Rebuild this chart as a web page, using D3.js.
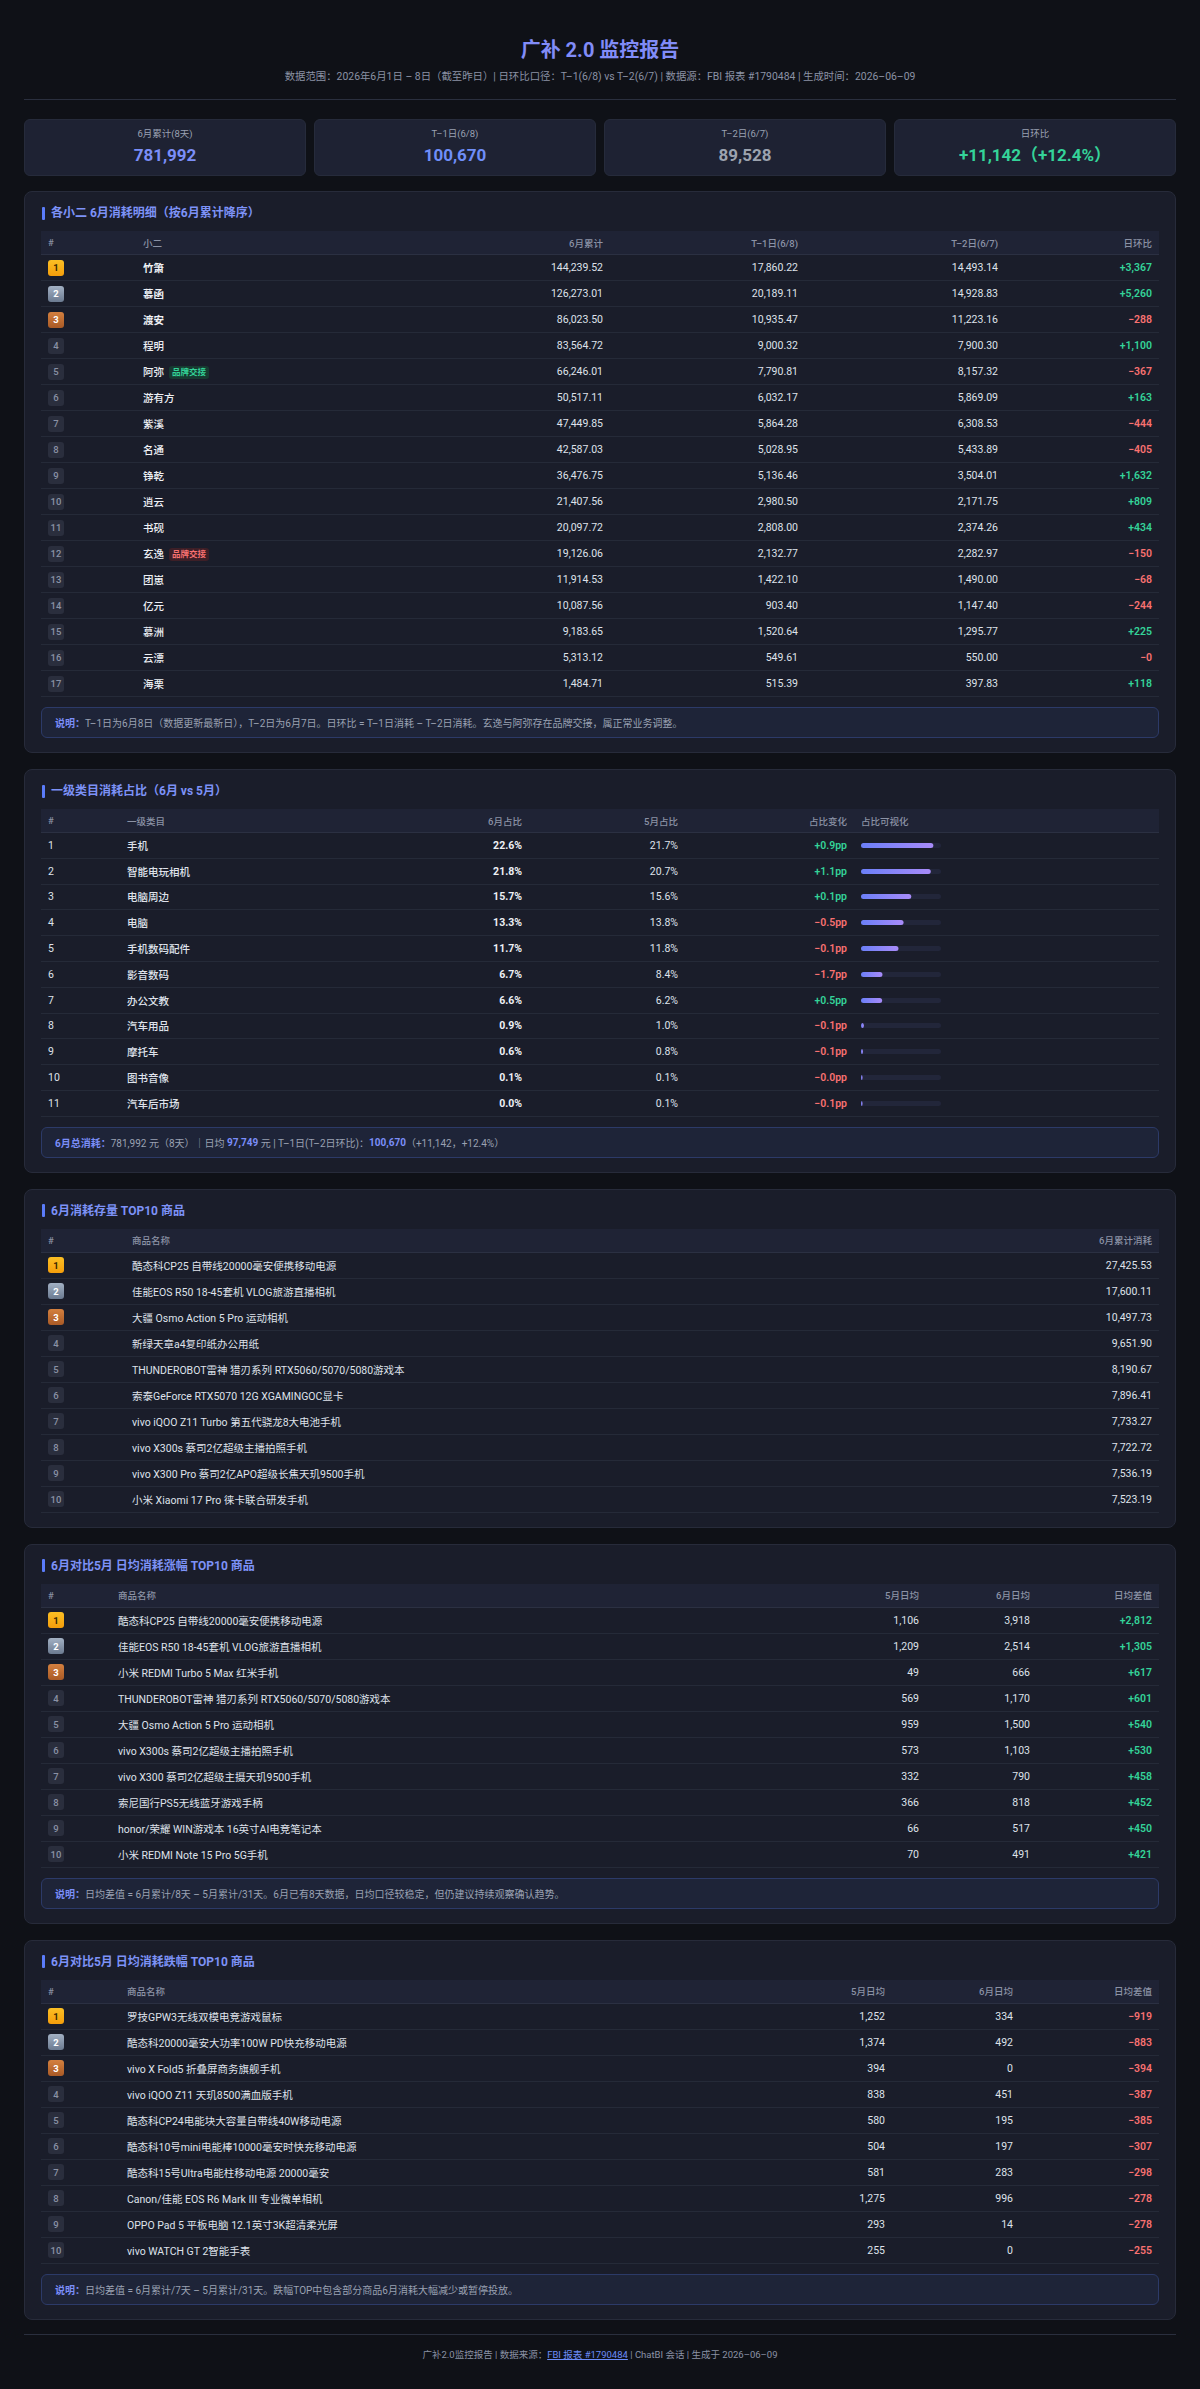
<!DOCTYPE html>
<html lang="zh-CN">
<head>
<meta charset="utf-8">
<title>广补 2.0 监控报告</title>
<script src="https://cdn.jsdelivr.net/npm/d3@7"></script>
<style>
  * { box-sizing: border-box; }
  body { margin: 0; background: #0f1117; color: #e4e6ed; font-family: Roboto, "Noto Sans CJK SC", sans-serif; }
  #page { width: 1152px; margin: 0 24px; padding-top: 36px; }
  h1 { margin: 0; text-align: center; font-size: 20px; line-height: 28px; font-weight: 700; color: #818cf8; }
  .sub { margin-top: 6px; text-align: center; font-size: 10.4px; line-height: 14px; color: #8b92a5; }
  .rule { margin-top: 15px; height: 1px; background: #2a2f3e; }
  .cards { margin-top: 19px; display: flex; gap: 8px; }
  .card { flex: 1; height: 57px; background: #1e2233; border: 1px solid #262b3b; border-radius: 6px; text-align: center; padding-top: 8px; }
  .card .lab { font-size: 9.5px; line-height: 12px; color: #9aa1b2; }
  .card .val { margin-top: 5px; font-size: 17px; line-height: 20px; font-weight: 700; }
  .sec { margin-top: 16px; background: #1a1d2a; border: 1px solid #272b3a; border-radius: 8px; padding: 13px 16px 14px; }
  .sec.first { margin-top: 15px; }
  .sec-title { height: 16px; line-height: 16px; margin-bottom: 10px; font-size: 12px; font-weight: 700; color: #7d92f7; display: flex; align-items: center; }
  .sec-title::before { content: ''; width: 3px; height: 13px; background: #5b7cfa; border-radius: 1px; margin: 0 6px 0 1px; }
  .row { display: grid; align-items: center; border-bottom: 1px solid #252a38; }
  .row.head { height: 24px; background: #1f2335; border-bottom: 1px solid #2b3042; }
  .cell { padding: 0 7px; white-space: nowrap; overflow: hidden; font-size: 10.5px; color: #dfe2ea; }
  .head .cell { font-size: 9.5px; color: #8b92a5; font-weight: 500; }
  .r { text-align: right; }
  .badge { display: inline-flex; width: 16px; height: 16px; border-radius: 3px; align-items: center; justify-content: center; font-size: 9.5px; font-weight: 700; vertical-align: middle; }
  .b1 { background: linear-gradient(#fbbf24, #f59e0b); color: #3a2600; }
  .b2 { background: linear-gradient(#a3b1c4, #6b7a90); color: #fff; }
  .b3 { background: linear-gradient(#d4803f, #a95a26); color: #fff; }
  .bn { background: #2a2e3d; color: #8b92a5; font-weight: 500; }
  .tag { display: inline-block; margin-left: 5px; height: 13px; line-height: 13px; padding: 0 3px; border-radius: 3px; font-size: 8.5px; font-weight: 700; vertical-align: middle; }
  .tag.green { background: #173a31; color: #34d399; }
  .tag.red { background: #3d1f27; color: #f87171; }
  .note { margin-top: 10px; height: 31px; display: flex; align-items: center; padding: 0 13px; background: #1e2438; border: 1px solid #2c3a68; border-radius: 6px; font-size: 10px; color: #9aa1b2; white-space: pre; }
  .note b { color: #7b8ef8; }
  .foot { margin-top: 14px; border-top: 1px solid #2a2f3e; padding-top: 13px; text-align: center; font-size: 9.5px; line-height: 14px; color: #8b92a5; }
  .foot a { color: #6d8cf8; text-decoration: underline; }
</style>
</head>
<body>
<div id="page"></div>
<script>
// ---- data ----
const kpiLabels = ['6月累计(8天)', 'T–1日(6/8)', 'T–2日(6/7)', '日环比'];
const kpiValues = [781992, 100670, 89528, 11142];
const kpiDayPct = 12.4;

const staffNames = ['竹箫', '慕函', '渡安', '程明', '阿弥', '游有方', '紫溪', '名通', '铮乾', '逍云', '书砚', '玄逸', '团崽', '亿元', '慕洲', '云漂', '海栗'];
const staffJune = [144239.52, 126273.01, 86023.50, 83564.72, 66246.01, 50517.11, 47449.85, 42587.03, 36476.75, 21407.56, 20097.72, 19126.06, 11914.53, 10087.56, 9183.65, 5313.12, 1484.71];
const staffT1 = [17860.22, 20189.11, 10935.47, 9000.32, 7790.81, 6032.17, 5864.28, 5028.95, 5136.46, 2980.50, 2808.00, 2132.77, 1422.10, 903.40, 1520.64, 549.61, 515.39];
const staffT2 = [14493.14, 14928.83, 11223.16, 7900.30, 8157.32, 5869.09, 6308.53, 5433.89, 3504.01, 2171.75, 2374.26, 2282.97, 1490.00, 1147.40, 1295.77, 550.00, 397.83];
const staffDelta = [3367, 5260, -288, 1100, -367, 163, -444, -405, 1632, 809, 434, -150, -68, -244, 225, -0, 118];
const handoverTags = { '阿弥': 'green', '玄逸': 'red' };

const categories = ['手机', '智能电玩相机', '电脑周边', '电脑', '手机数码配件', '影音数码', '办公文教', '汽车用品', '摩托车', '图书音像', '汽车后市场'];
const shareJune = [22.6, 21.8, 15.7, 13.3, 11.7, 6.7, 6.6, 0.9, 0.6, 0.1, 0.0];
const shareMay = [21.7, 20.7, 15.6, 13.8, 11.8, 8.4, 6.2, 1.0, 0.8, 0.1, 0.1];
const shareChange = [0.9, 1.1, 0.1, -0.5, -0.1, -1.7, 0.5, -0.1, -0.1, -0.0, -0.1];
const shareMax = 25;
const totalJune = 781992, dailyAvg = 97749;

const topGoods = ['酷态科CP25 自带线20000毫安便携移动电源', '佳能EOS R50 18-45套机 VLOG旅游直播相机', '大疆 Osmo Action 5 Pro 运动相机', '新绿天章a4复印纸办公用纸', 'THUNDEROBOT雷神 猎刃系列 RTX5060/5070/5080游戏本', '索泰GeForce RTX5070 12G XGAMINGOC显卡', 'vivo iQOO Z11 Turbo 第五代骁龙8大电池手机', 'vivo X300s 蔡司2亿超级主播拍照手机', 'vivo X300 Pro 蔡司2亿APO超级长焦天玑9500手机', '小米 Xiaomi 17 Pro 徕卡联合研发手机'];
const topGoodsSpend = [27425.53, 17600.11, 10497.73, 9651.90, 8190.67, 7896.41, 7733.27, 7722.72, 7536.19, 7523.19];

const riseGoods = ['酷态科CP25 自带线20000毫安便携移动电源', '佳能EOS R50 18-45套机 VLOG旅游直播相机', '小米 REDMI Turbo 5 Max 红米手机', 'THUNDEROBOT雷神 猎刃系列 RTX5060/5070/5080游戏本', '大疆 Osmo Action 5 Pro 运动相机', 'vivo X300s 蔡司2亿超级主播拍照手机', 'vivo X300 蔡司2亿超级主摄天玑9500手机', '索尼国行PS5无线蓝牙游戏手柄', 'honor/荣耀 WIN游戏本 16英寸AI电竞笔记本', '小米 REDMI Note 15 Pro 5G手机'];
const riseMay = [1106, 1209, 49, 569, 959, 573, 332, 366, 66, 70];
const riseJune = [3918, 2514, 666, 1170, 1500, 1103, 790, 818, 517, 491];
const riseDiff = [2812, 1305, 617, 601, 540, 530, 458, 452, 450, 421];

const fallGoods = ['罗技GPW3无线双模电竞游戏鼠标', '酷态科20000毫安大功率100W PD快充移动电源', 'vivo X Fold5 折叠屏商务旗舰手机', 'vivo iQOO Z11 天玑8500满血版手机', '酷态科CP24电能块大容量自带线40W移动电源', '酷态科10号mini电能棒10000毫安时快充移动电源', '酷态科15号Ultra电能柱移动电源 20000毫安', 'Canon/佳能 EOS R6 Mark III 专业微单相机', 'OPPO Pad 5 平板电脑 12.1英寸3K超清柔光屏', 'vivo WATCH GT 2智能手表'];
const fallMay = [1252, 1374, 394, 838, 580, 504, 581, 1275, 293, 255];
const fallJune = [334, 492, 0, 451, 195, 197, 283, 996, 14, 0];
const fallDiff = [-919, -883, -394, -387, -385, -307, -298, -278, -278, -255];

// ---- helpers ----
const GREEN = '#34d399', RED = '#f87171', BLUE = '#7b8ef8';
const fmtInt = d3.format(',');
const fmt2 = d3.format(',.2f');
const fmtDelta = d3.format('+,.0f');
const fmtPp = d3.format('+.1f');
const fmtPct = d3.format('.1f');
const isNeg = v => v < 0 || Object.is(v, -0);
const signColor = v => isNeg(v) ? RED : GREEN;

const page = d3.select('#page');

const badge = (td, i) => td.append('span')
  .attr('class', 'badge ' + (i < 3 ? 'b' + (i + 1) : 'bn'))
  .text(i + 1);

const addSection = (title, first) => {
  const sec = page.append('div').attr('class', 'sec' + (first ? ' first' : ''));
  sec.append('div').attr('class', 'sec-title').text(title);
  return sec;
};

// cols: [{head, w, right, cell(td, i)}]
const addTable = (sec, cols, n, rowH) => {
  const tpl = cols.map(c => c.w + 'px').join(' ');
  const head = sec.append('div').attr('class', 'row head').style('grid-template-columns', tpl);
  cols.forEach(c => head.append('div').attr('class', 'cell' + (c.right ? ' r' : '')).text(c.head));
  d3.range(n).forEach(i => {
    const row = sec.append('div').attr('class', 'row')
      .style('grid-template-columns', tpl)
      .style('height', rowH + 'px');
    cols.forEach(c => c.cell(row.append('div').attr('class', 'cell' + (c.right ? ' r' : '')), i));
  });
};

const plain = (arr, f) => (td, i) => td.text(f ? f(arr[i]) : arr[i]);
const signed = (arr, f) => (td, i) => td.style('color', signColor(arr[i])).style('font-weight', 600).text(f(arr[i]));

// ---- header ----
page.append('h1').text('广补 2.0 监控报告');
page.append('div').attr('class', 'sub')
  .text('数据范围：2026年6月1日 – 8日（截至昨日）| 日环比口径：T–1(6/8) vs T–2(6/7) | 数据源：FBI 报表 #1790484 | 生成时间：2026–06–09');
page.append('div').attr('class', 'rule');

const kpiColors = [BLUE, '#6f8ef8', '#9ca3af', GREEN];
const cards = page.append('div').attr('class', 'cards')
  .selectAll('.card').data(kpiLabels).join('div').attr('class', 'card');
cards.append('div').attr('class', 'lab').text(d => d);
cards.append('div').attr('class', 'val')
  .style('color', (d, i) => kpiColors[i])
  .text((d, i) => i === 3 ? `${fmtDelta(kpiValues[i])}（+${fmtPct(kpiDayPct)}%）` : fmtInt(kpiValues[i]));

// ---- 1. staff ----
const s1 = addSection('各小二 6月消耗明细（按6月累计降序）', true);
addTable(s1, [
  { head: '#', w: 95, cell: badge },
  { head: '小二', w: 280, cell: (td, i) => {
      td.append('span').style('font-weight', i < 3 ? 700 : 500).style('color', '#eef0f5').text(staffNames[i]);
      const tone = handoverTags[staffNames[i]];
      if (tone) td.append('span').attr('class', 'tag ' + tone).text('品牌交接');
    } },
  { head: '6月累计', w: 194, right: true, cell: plain(staffJune, fmt2) },
  { head: 'T–1日(6/8)', w: 195, right: true, cell: plain(staffT1, fmt2) },
  { head: 'T–2日(6/7)', w: 200, right: true, cell: plain(staffT2, fmt2) },
  { head: '日环比', w: 154, right: true, cell: signed(staffDelta, fmtDelta) }
], staffNames.length, 26);
s1.append('div').attr('class', 'note').html('<b>说明：</b>T–1日为6月8日（数据更新最新日），T–2日为6月7日。日环比 = T–1日消耗 – T–2日消耗。玄逸与阿弥存在品牌交接，属正常业务调整。');

// ---- 2. categories ----
const barX = d3.scaleLinear().domain([0, shareMax]).range([0, 80]);
const s2 = addSection('一级类目消耗占比（6月 vs 5月）');
addTable(s2, [
  { head: '#', w: 79, cell: (td, i) => td.text(i + 1) },
  { head: '一级类目', w: 250, cell: (td, i) => td.style('font-weight', 500).text(categories[i]) },
  { head: '6月占比', w: 159, right: true, cell: (td, i) => td.style('font-weight', 700).style('color', '#eef0f5').text(fmtPct(shareJune[i]) + '%') },
  { head: '5月占比', w: 156, right: true, cell: plain(shareMay, v => fmtPct(v) + '%') },
  { head: '占比变化', w: 169, right: true, cell: signed(shareChange, v => fmtPp(v) + 'pp') },
  { head: '占比可视化', w: 305, cell: (td, i) => {
      const svg = td.append('svg').attr('width', barX.range()[1]).attr('height', 5).style('display', 'block');
      const grad = svg.append('defs').append('linearGradient').attr('id', 'g' + i);
      grad.append('stop').attr('offset', 0).attr('stop-color', '#6b7ff8');
      grad.append('stop').attr('offset', 1).attr('stop-color', '#a88bf9');
      svg.append('rect').attr('width', barX.range()[1]).attr('height', 5).attr('rx', 2.5).attr('fill', '#22263a');
      svg.append('rect').attr('width', Math.max(1.5, barX(shareJune[i]))).attr('height', 5).attr('rx', 2.5).attr('fill', `url(#g${i})`);
    } }
], categories.length, 25.8);
s2.append('div').attr('class', 'note')
  .html(`<b>6月总消耗：</b>${fmtInt(totalJune)} 元（8天）｜日均 <b>${fmtInt(dailyAvg)}</b> 元 | T–1日(T–2日环比)：<b>${fmtInt(kpiValues[1])}</b>（${fmtDelta(kpiValues[3])}，+${fmtPct(kpiDayPct)}%）`);

// ---- 3. top spend goods ----
const s3 = addSection('6月消耗存量 TOP10 商品');
addTable(s3, [
  { head: '#', w: 84, cell: badge },
  { head: '商品名称', w: 834, cell: plain(topGoods) },
  { head: '6月累计消耗', w: 200, right: true, cell: plain(topGoodsSpend, fmt2) }
], topGoods.length, 26);

// ---- 4. rising goods ----
const s4 = addSection('6月对比5月 日均消耗涨幅 TOP10 商品');
addTable(s4, [
  { head: '#', w: 70, cell: badge },
  { head: '商品名称', w: 615, cell: plain(riseGoods) },
  { head: '5月日均', w: 200, right: true, cell: plain(riseMay, fmtInt) },
  { head: '6月日均', w: 111, right: true, cell: plain(riseJune, fmtInt) },
  { head: '日均差值', w: 122, right: true, cell: signed(riseDiff, fmtDelta) }
], riseGoods.length, 26);
s4.append('div').attr('class', 'note').html('<b>说明：</b>日均差值 = 6月累计/8天 – 5月累计/31天。6月已有8天数据，日均口径较稳定，但仍建议持续观察确认趋势。');

// ---- 5. falling goods ----
const s5 = addSection('6月对比5月 日均消耗跌幅 TOP10 商品');
addTable(s5, [
  { head: '#', w: 79, cell: badge },
  { head: '商品名称', w: 572, cell: plain(fallGoods) },
  { head: '5月日均', w: 200, right: true, cell: plain(fallMay, fmtInt) },
  { head: '6月日均', w: 128, right: true, cell: plain(fallJune, fmtInt) },
  { head: '日均差值', w: 139, right: true, cell: signed(fallDiff, fmtDelta) }
], fallGoods.length, 26);
s5.append('div').attr('class', 'note').html('<b>说明：</b>日均差值 = 6月累计/7天 – 5月累计/31天。跌幅TOP中包含部分商品6月消耗大幅减少或暂停投放。');

// ---- footer ----
page.append('div').attr('class', 'foot')
  .html('广补2.0监控报告 | 数据来源：<a>FBI 报表 #1790484</a> | ChatBI 会话 | 生成于 2026–06–09');
</script>
</body>
</html>
